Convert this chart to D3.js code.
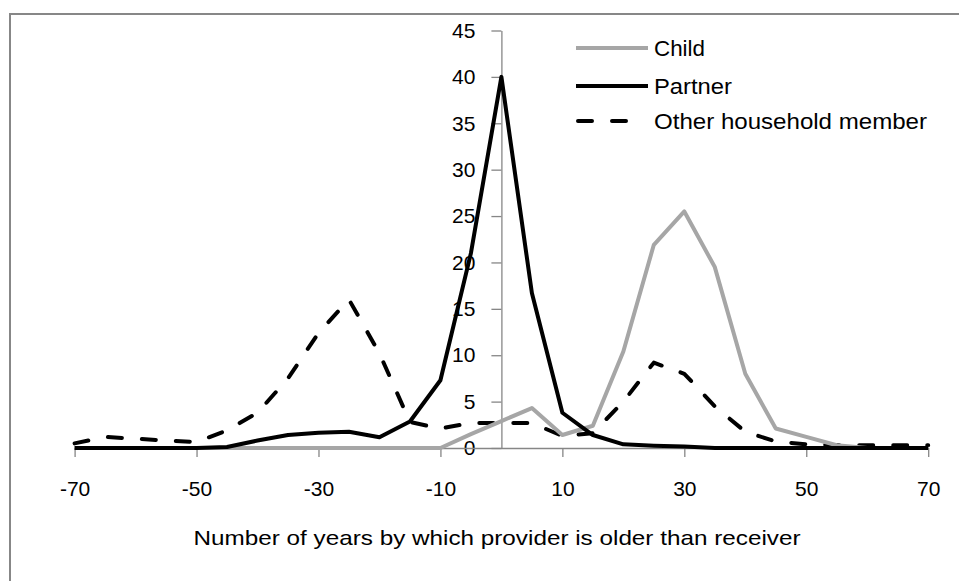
<!DOCTYPE html>
<html>
<head>
<meta charset="utf-8">
<script src="https://cdn.jsdelivr.net/npm/d3@7"></script>
<style>
  html, body { margin: 0; padding: 0; background: #fff; }
  svg { display: block; }
  text { font-family: "Liberation Sans", Arial, sans-serif; fill: #000; }
</style>
</head>
<body>
<svg id="chart" width="959" height="581"></svg>
<script>
// ---- data ----
const years = [-70, -65, -60, -55, -50, -45, -40, -35, -30, -25, -20, -15, -10, -5, 0, 5, 10, 15, 20, 25, 30, 35, 40, 45, 50, 55, 60, 65, 70];
const child   = [0, 0, 0, 0, 0, 0, 0, 0, 0, 0, 0, 0, 0, 1.5, 2.9, 4.3, 1.4, 2.4, 10.4, 21.9, 25.5, 19.5, 8.0, 2.1, 1.2, 0.3, 0, 0, 0];
const partner = [0, 0, 0, 0, 0, 0.1, 0.8, 1.4, 1.65, 1.75, 1.15, 2.85, 7.3, 21.0, 40.0, 16.7, 3.8, 1.4, 0.4, 0.25, 0.15, 0, 0, 0, 0, 0, 0, 0, 0];
const other   = [0.5, 1.2, 1.0, 0.8, 0.65, 1.9, 3.8, 7.5, 12.4, 16.0, 10.2, 2.8, 2.1, 2.7, 2.7, 2.7, 1.3, 1.6, 5.0, 9.2, 8.0, 4.5, 1.75, 0.7, 0.4, 0.3, 0.3, 0.3, 0.3];
const xTicks = [-70, -50, -30, -10, 10, 30, 50, 70];
const yTicks = [0, 5, 10, 15, 20, 25, 30, 35, 40, 45];
const seriesNames = ["Child", "Partner", "Other household member"];
const xTitle = "Number of years by which provider is older than receiver";

// ---- layout ----
const svg = d3.select("#chart");
const x = d3.scaleLinear().domain([-70, 70]).range([74.6, 928.2]);
const y = d3.scaleLinear().domain([0, 45]).range([448, 30.5]);
const axisGray = "#868686";

// outer frame (top and left edges visible)
svg.append("path")
  .attr("d", "M10,581 L10,14 L959,14")
  .attr("fill", "none").attr("stroke", "#878787").attr("stroke-width", 2);

// y axis at x = 0
const yAxis = svg.append("g")
  .attr("transform", `translate(${x(0)},0)`)
  .call(d3.axisLeft(y).tickValues(yTicks).tickSizeInner(10).tickSizeOuter(0).tickPadding(16));
yAxis.select(".domain").attr("stroke", axisGray).attr("stroke-width", 1.3);
yAxis.selectAll(".tick line").attr("stroke", axisGray).attr("stroke-width", 1.3);
yAxis.selectAll(".tick text").attr("font-size", 21).attr("font-family", "Liberation Sans, Arial, sans-serif").attr("fill", "#000");

// x axis at y = 0
const xAxis = svg.append("g")
  .attr("transform", `translate(0,${y(0)})`)
  .call(d3.axisBottom(x).tickValues(xTicks).tickSizeInner(9).tickSizeOuter(0).tickPadding(24).tickFormat(d3.format("d")));
xAxis.select(".domain").attr("stroke", axisGray).attr("stroke-width", 1.3);
xAxis.selectAll(".tick line").attr("stroke", axisGray).attr("stroke-width", 1.3);
xAxis.selectAll(".tick text").attr("font-size", 21).attr("font-family", "Liberation Sans, Arial, sans-serif").attr("fill", "#000")
  .text(d => d < 0 ? "-" + Math.abs(d) : String(d));

// x axis title
svg.append("text")
  .attr("x", 497).attr("y", 538).attr("dy", "0.35em")
  .attr("text-anchor", "middle").attr("font-size", 21)
  .attr("textLength", 607).attr("lengthAdjust", "spacingAndGlyphs")
  .text(xTitle);

// ---- series ----
const styles = [
  { values: child,   stroke: "#a6a6a6", dash: null },
  { values: partner, stroke: "#000000", dash: null },
  { values: other,   stroke: "#000000", dash: "14 20" }
];
const line = d3.line().x(d => x(d[0])).y(d => y(d[1]));

// draw order: other, child, partner (partner on top)
[2, 0, 1].forEach(i => {
  const s = styles[i];
  svg.append("path")
    .datum(years.map((yr, k) => [yr, s.values[k]]))
    .attr("d", line)
    .attr("fill", "none")
    .attr("stroke", s.stroke)
    .attr("stroke-width", 4)
    .attr("stroke-linejoin", "round")
    .attr("stroke-linecap", s.dash ? "round" : "butt")
    .attr("stroke-dasharray", s.dash);
});

// ---- legend ----
const legendY = [48, 86, 121];
const legendWidths = [51, 78, 273];
const lg = svg.append("g");
seriesNames.forEach((name, i) => {
  const s = styles[i];
  lg.append("line")
    .attr("x1", s.dash ? 578 : 576).attr("x2", s.dash ? 628 : 648)
    .attr("y1", legendY[i]).attr("y2", legendY[i])
    .attr("stroke", s.stroke).attr("stroke-width", 4)
    .attr("stroke-linecap", s.dash ? "round" : "butt")
    .attr("stroke-dasharray", s.dash);
  lg.append("text")
    .attr("x", 654).attr("y", legendY[i]).attr("dy", "0.35em")
    .attr("font-size", 22)
    .attr("textLength", legendWidths[i]).attr("lengthAdjust", "spacingAndGlyphs")
    .text(name);
});
</script>
</body>
</html>
